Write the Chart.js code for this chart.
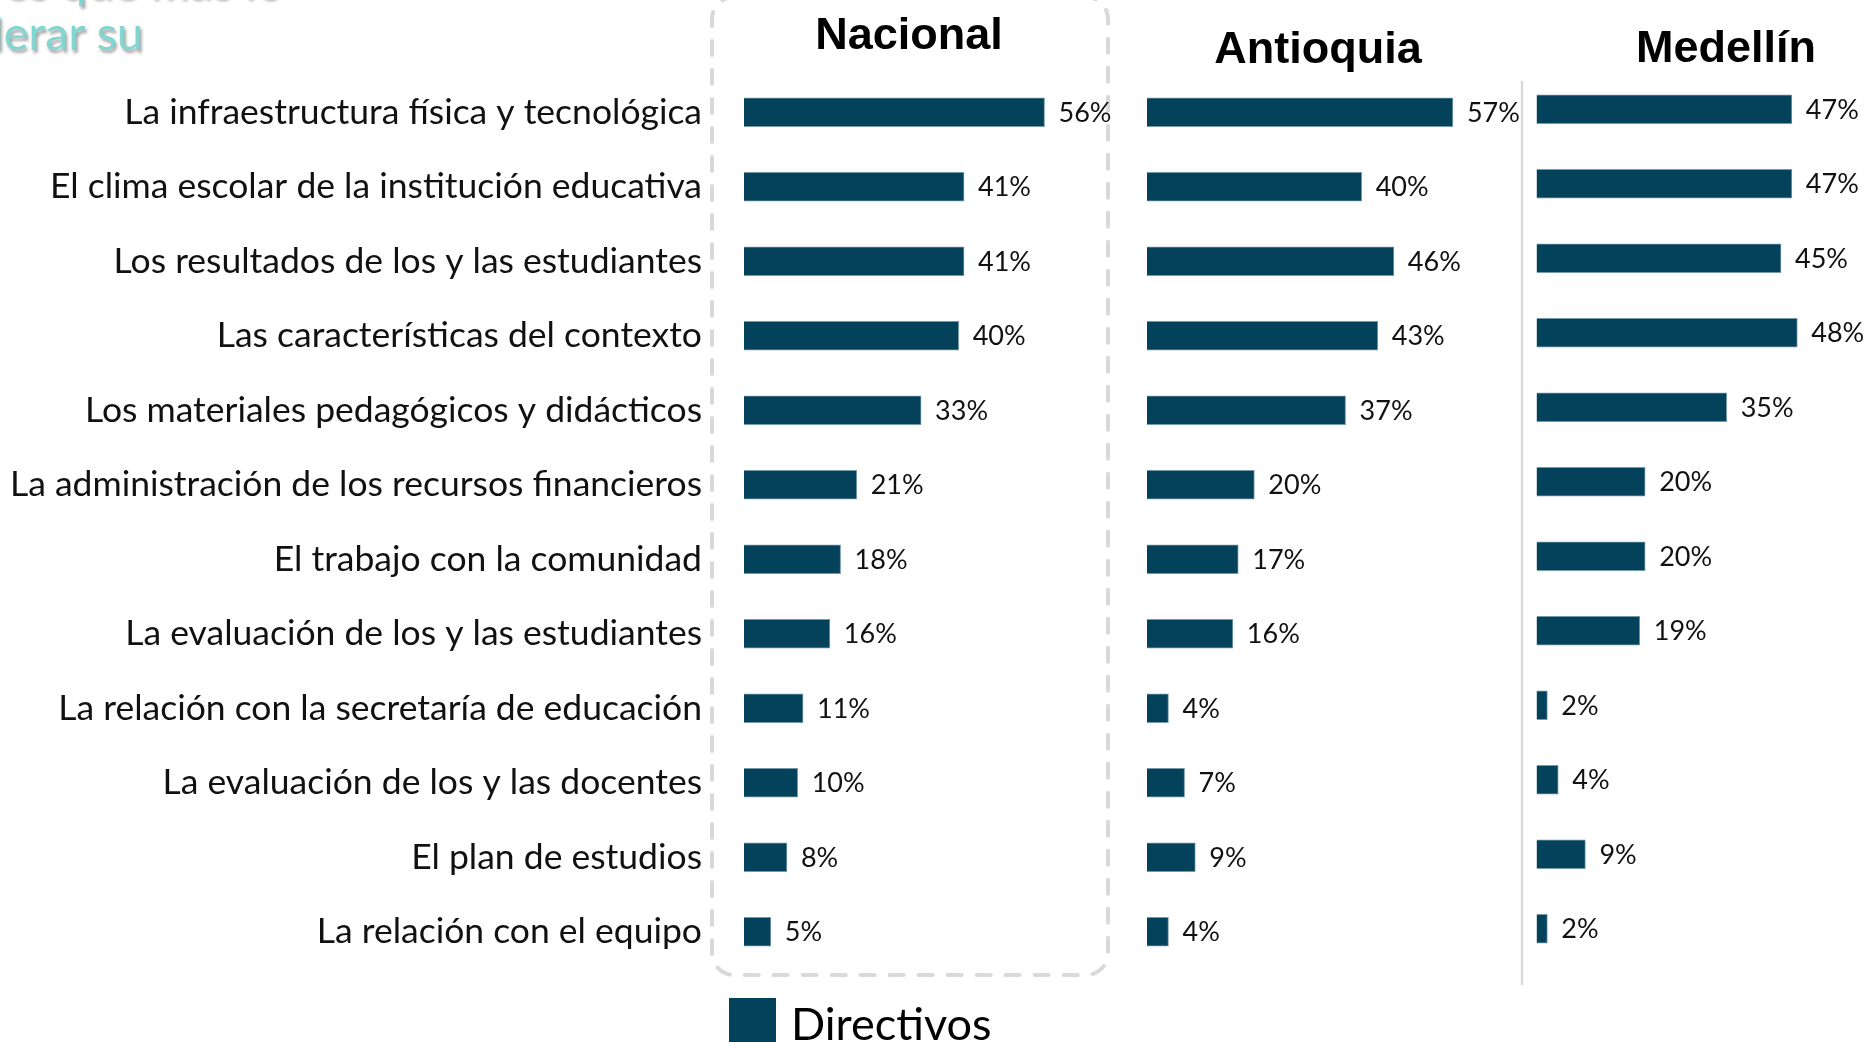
<!DOCTYPE html>
<html>
<head>
<meta charset="utf-8">
<script src="https://cdn.jsdelivr.net/npm/chart.js@4.4.1/dist/chart.umd.min.js"></script>
<style>
  html, body { margin: 0; padding: 0; background: #fff; overflow: hidden; }
  body { width: 1870px; height: 1042px; position: relative; font-family: Lato, "Open Sans", sans-serif; }
  canvas { position: absolute; top: 0; }
  .title { position: absolute; font-family: "Liberation Sans", Arial, sans-serif; font-weight: bold; font-size: 45px; color: #000; transform: translateX(-50%); white-space: nowrap; line-height: 1; }
  .heading { position: absolute; color: #82d6d2; font-family: Lato, sans-serif; font-size: 47px; white-space: nowrap; text-shadow: 2px 3px 3px rgba(0,0,0,0.35); line-height: 1; }
  .legend { position: absolute; left: 729px; top: 998px; display: flex; align-items: flex-start; }
  .legend .box { width: 47px; height: 50px; background: #03425a; }
  .legend .txt { margin-left: 15px; font-size: 45px; color: #000; line-height: 1; margin-top: 3px; }
</style>
</head>
<body>
<div class="heading" style="right: 1590px; top: -43px;">Factores que más le</div>
<div class="heading" style="right: 1727px; top: 9px;">considerar su</div>

<canvas id="nacional" width="1120" height="1042" style="left:0"></canvas>
<canvas id="antioquia" width="400" height="1042" style="left:1120px"></canvas>
<canvas id="medellin" width="350" height="1042" style="left:1520px"></canvas>

<div class="title" id="t0" style="left: 909px; top: 11px;"></div>
<div class="title" id="t1" style="left: 1318px; top: 25px;"></div>
<div class="title" id="t2" style="left: 1726px; top: 24px;"></div>

<div class="legend"><div class="box"></div><div class="txt" id="legendText"></div></div>

<script>
const categories = [
  "La infraestructura física y tecnológica",
  "El clima escolar de la institución educativa",
  "Los resultados de los y las estudiantes",
  "Las características del contexto",
  "Los materiales pedagógicos y didácticos",
  "La administración de los recursos financieros",
  "El trabajo con la comunidad",
  "La evaluación de los y las estudiantes",
  "La relación con la secretaría de educación",
  "La evaluación de los y las docentes",
  "El plan de estudios",
  "La relación con el equipo"
];
const nacional = [56, 41, 41, 40, 33, 21, 18, 16, 11, 10, 8, 5];
const antioquia = [57, 40, 46, 43, 37, 20, 17, 16, 4, 7, 9, 4];
const medellin = [47, 47, 45, 48, 35, 20, 20, 19, 2, 4, 9, 2];
const panelTitles = ["Nacional", "Antioquia", "Medellín"];
const seriesLabel = "Directivos";

const BAR = "#03425a";

panelTitles.forEach((t, i) => document.getElementById("t" + i).textContent = t);
document.getElementById("legendText").textContent = seriesLabel;

// percent labels after each bar
const valueLabels = {
  id: "valueLabels",
  afterDatasetsDraw(chart) {
    const ctx = chart.ctx;
    const meta = chart.getDatasetMeta(0);
    ctx.save();
    ctx.font = "27px Lato";
    ctx.fillStyle = "#111";
    ctx.textBaseline = "middle";
    meta.data.forEach((bar, i) => {
      ctx.fillText(chart.data.datasets[0].data[i] + "%", bar.x + 14, bar.y + 1);
    });
    ctx.restore();
  }
};

// dashed rounded frame around the Nacional panel
const dashedFrame = {
  id: "dashedFrame",
  beforeDraw(chart) {
    const ctx = chart.ctx;
    ctx.save();
    ctx.strokeStyle = "#d9d9d9";
    ctx.lineWidth = 4;
    ctx.lineCap = "round";
    ctx.setLineDash([14, 15]);
    ctx.beginPath();
    ctx.roundRect(712, -3, 396, 978, 22);
    ctx.stroke();
    ctx.restore();
  }
};

// solid separator before Medellín
const separator = {
  id: "separator",
  beforeDraw(chart) {
    const ctx = chart.ctx;
    ctx.save();
    ctx.strokeStyle = "#d9d9d9";
    ctx.lineWidth = 2.5;
    ctx.beginPath();
    ctx.moveTo(2, 81);
    ctx.lineTo(2, 985);
    ctx.stroke();
    ctx.restore();
  }
};

function makeChart(id, values, padding, max, withLabels, extra) {
  return new Chart(document.getElementById(id), {
    type: "bar",
    data: {
      labels: categories,
      datasets: [{
        label: seriesLabel,
        data: values,
        backgroundColor: BAR,
        borderColor: "#7499a8",
        borderWidth: 1,
        barThickness: 29
      }]
    },
    options: {
      indexAxis: "y",
      responsive: false,
      animation: false,
      layout: { padding: padding },
      plugins: { legend: { display: false }, tooltip: { enabled: false } },
      scales: {
        x: { display: false, min: 0, max: max },
        y: {
          display: withLabels,
          grid: { display: false, drawTicks: false },
          border: { display: false },
          ticks: { color: "#111", font: { family: "Lato", size: 35.5 }, padding: 42, autoSkip: false },
          afterFit(scale) { if (withLabels) scale.width = 744; }
        }
      }
    },
    plugins: [valueLabels].concat(extra)
  });
}

makeChart("nacional", nacional, { top: 75, bottom: 73, left: 0, right: 54 }, 60, true, [dashedFrame]);
makeChart("antioquia", antioquia, { top: 75, bottom: 73, left: 27, right: 51 }, 60, false, []);
makeChart("medellin", medellin, { top: 72, bottom: 76, left: 16.5, right: 7.5 }, 60, false, [separator]);
</script>
</body>
</html>
